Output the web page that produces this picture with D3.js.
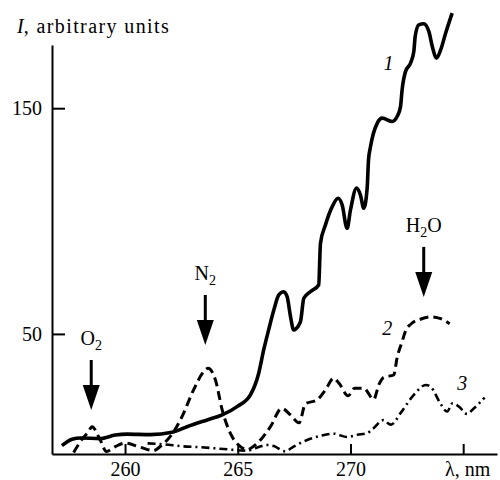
<!DOCTYPE html>
<html>
<head>
<meta charset="utf-8">
<script src="https://cdn.jsdelivr.net/npm/d3@7"></script>
<style>
  html, body { margin: 0; padding: 0; background: #fff; }
  svg { display: block; }
</style>
</head>
<body>
<svg id="chart" width="500" height="480"></svg>
<script>
// ---- data ----
const wavelength1 = [257.20, 257.65, 258.02, 258.90, 259.57, 260.09, 261.12, 262.09, 262.75, 263.64,
  264.31, 264.97, 265.56, 265.93, 266.15, 266.37, 266.60, 266.82, 267.04, 267.19, 267.34, 267.48,
  267.78, 267.93, 268.22, 268.59, 268.67, 268.89, 269.19, 269.45, 269.63, 269.85, 270.00, 270.27,
  270.44, 270.59, 270.74, 270.80, 270.89, 271.19, 271.41, 271.85, 272.07, 272.22, 272.29, 272.44,
  272.66, 272.81, 272.87, 273.03, 273.25, 273.48, 273.63, 273.82, 274.00, 274.22, 274.51];
const intensity1 = [0.5, 3.3, 3.9, 3.6, 5.2, 5.6, 5.4, 6.4, 8.9, 11.9,
  14.1, 17.8, 23.0, 32.6, 42.9, 51.8, 60.6, 67.3, 68.7, 66.5, 57.7, 51.8,
  55.4, 65.8, 68.7, 71.7, 90.2, 98.3, 106.4, 110.1, 107.2, 96.8, 104.9, 114.6,
  111.6, 105.7, 114.6, 127.0, 133.0, 143.4, 145.6, 144.1, 146.3, 150.7, 158.1, 166.2,
  169.9, 175.1, 181.7, 186.9, 187.4, 183.9, 177.3, 172.2, 175.8, 183.2, 192.1];

const wavelength2 = [257.72, 258.09, 258.38, 258.53, 258.90, 259.17, 259.57, 260.01, 260.68, 261.27,
  261.56, 262.16, 262.53, 263.04, 263.49, 263.68, 264.01, 264.31, 264.67, 265.12, 265.41, 265.78,
  266.45, 266.95, 267.34, 267.72, 268.00, 268.52, 268.89, 269.26, 269.50, 269.90, 270.18, 270.59,
  271.03, 271.26, 271.48, 271.92, 272.07, 272.29, 272.45, 272.70, 273.10, 273.55, 274.00, 274.40];
const intensity2 = [-2.5, 3.3, 6.7, 8.9, 3.0, -2.1, 0.1, 1.6, -0.2, -1.7,
  0.1, 6.7, 13.4, 25.2, 33.3, 34.8, 29.6, 16.3, 6.0, 0.1, -1.3, 0.8,
  8.9, 17.0, 14.1, 10.6, 19.0, 20.8, 25.2, 30.4, 28.0, 22.6, 25.9, 25.9,
  21.0, 27.5, 30.8, 31.8, 39.5, 46.6, 51.5, 54.5, 56.5, 57.6, 56.8, 54.5];

const wavelength3 = [261.00, 261.80, 262.45, 263.34, 264.38, 265.41, 265.99, 266.30, 266.60, 267.10,
  267.48, 268.08, 268.67, 269.26, 269.85, 270.30, 270.74, 271.00, 271.45, 271.80, 272.22, 272.81,
  273.35, 273.58, 274.00, 274.29, 274.53, 274.81, 275.18, 275.40, 275.95];
const intensity3 = [1.5, 1.0, 0.3, -0.2, -1.0, -1.7, 0.1, 0.8, 0.3, -2.0,
  0.1, 3.0, 4.8, 5.8, 4.3, 5.3, 6.0, 8.0, 11.8, 9.8, 14.9, 23.0,
  27.4, 26.3, 19.0, 15.6, 19.3, 17.8, 14.5, 16.3, 21.8];

const xTickValues = [260, 265, 270, 275];
const xTickLabels = ["260", "265", "270", ""];
const yTickValues = [50, 150];
const yTickLabels = ["50", "150"];

const curveLabelText = ["1", "2", "3"];
const curveLabelWavelength = [271.69, 271.63, 274.96];
const curveLabelIntensity = [167.0, 49.6, 25.2];

const markerNames = ["O2", "N2", "H2O"];
const markerWavelength = [258.50, 263.56, 273.25];
const markerTipIntensity = [16.3, 45.1, 66.4];

const yTitle = "arbitrary units";
const xTitle = "λ, nm";

const SERIF = "'Liberation Serif', 'Times New Roman', Times, serif";

// ---- drawing ----
const svg = d3.select("#chart");
const x = d3.scaleLinear().domain([256.76, 276.5]).range([52, 497]);
const y = d3.scaleLinear().domain([-3.2, 178]).range([454, 45]);

const xAxis = d3.axisBottom(x).tickValues(xTickValues)
  .tickFormat((d, i) => xTickLabels[i]).tickSizeInner(-10).tickSizeOuter(0).tickPadding(8);
const yAxis = d3.axisLeft(y).tickValues(yTickValues)
  .tickFormat((d, i) => yTickLabels[i]).tickSizeInner(-13).tickSizeOuter(0).tickPadding(10);

const gx = svg.append("g").attr("transform", "translate(0,454)").call(xAxis);
const gy = svg.append("g").attr("transform", "translate(52,0)").call(yAxis);
[gx, gy].forEach(g => {
  g.attr("font-family", null).attr("font-size", null);
  g.selectAll("path, line").attr("stroke", "#000").attr("stroke-width", 2);
  g.selectAll("text").style("font-family", SERIF).style("font-size", "20px").attr("fill", "#000");
});
gy.selectAll("text").attr("dy", "0.33em");

// y-axis title
const yt = svg.append("text").attr("x", 17).attr("y", 33)
  .style("font-family", SERIF).style("font-size", "20px").attr("fill", "#000");
yt.append("tspan").style("font-style", "italic").text("I");
yt.append("tspan").attr("letter-spacing", 1.4).text(", " + yTitle);

// x-axis title
svg.append("text").attr("x", 445).attr("y", 476)
  .style("font-family", SERIF).style("font-size", "20px").attr("fill", "#000").text(xTitle);

// curves
const line = d3.line().x(d => x(d[0])).y(d => y(d[1])).curve(d3.curveMonotoneX);
const series = [
  { pts: d3.zip(wavelength1, intensity1), w: 3.6, dash: null },
  { pts: d3.zip(wavelength2, intensity2), w: 3, dash: "9,5" },
  { pts: d3.zip(wavelength3, intensity3), w: 2.6, dash: "8,4,2,4" }
];
series.forEach(s => {
  svg.append("path").datum(s.pts)
    .attr("d", line)
    .attr("fill", "none")
    .attr("stroke", "#000")
    .attr("stroke-width", s.w)
    .attr("stroke-linejoin", "round")
    .attr("stroke-dasharray", s.dash);
});

// curve labels
curveLabelText.forEach((t, i) => {
  svg.append("text")
    .attr("x", x(curveLabelWavelength[i]))
    .attr("y", y(curveLabelIntensity[i]))
    .attr("text-anchor", "middle")
    .style("font-family", SERIF).style("font-size", "20px").style("font-style", "italic")
    .attr("fill", "#000")
    .text(t);
});

// arrows with species labels
markerNames.forEach((name, i) => {
  const cx = x(markerWavelength[i]);
  const tip = y(markerTipIntensity[i]);
  svg.append("line")
    .attr("x1", cx).attr("x2", cx)
    .attr("y1", tip - 50).attr("y2", tip - 22)
    .attr("stroke", "#000").attr("stroke-width", 3);
  svg.append("path")
    .attr("d", `M${cx - 8.5},${tip - 25} L${cx + 8.5},${tip - 25} L${cx},${tip} Z`)
    .attr("fill", "#000");
  const t = svg.append("text")
    .attr("x", cx).attr("y", tip - 65)
    .attr("text-anchor", "middle")
    .style("font-family", SERIF).style("font-size", "20px").attr("fill", "#000");
  name.split(/(\d)/).filter(p => p.length).forEach(p => {
    if (/\d/.test(p)) {
      t.append("tspan").style("font-size", "14px").attr("dy", 5).text(p);
    } else {
      const ts = t.append("tspan").text(p);
      if (t.selectAll("tspan").size() > 1) ts.attr("dy", -5);
    }
  });
});
</script>
</body>
</html>
